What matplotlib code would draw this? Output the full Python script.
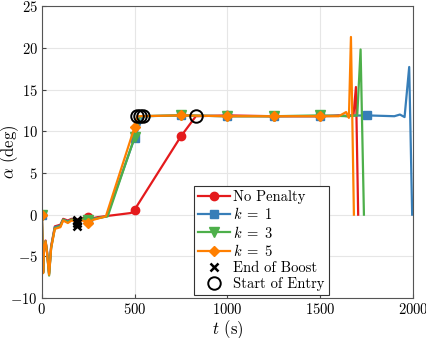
import matplotlib
matplotlib.use("Agg")
import matplotlib.pyplot as plt
import numpy as np

plt.rcParams["font.family"] = "serif"
plt.rcParams["font.serif"] = ["cmr10", "DejaVu Serif"]
plt.rcParams["mathtext.fontset"] = "cm"
plt.rcParams["axes.unicode_minus"] = False
plt.rcParams["axes.formatter.use_mathtext"] = True

# angle of attack histories, alpha (deg) vs t (s)
t_red = [0, 3, 7, 12, 20, 28, 39, 50, 70, 100, 115, 140, 160, 190, 220, 250, 280, 300,
         480, 500, 750, 830, 1000, 1250, 1500, 1600, 1650, 1680, 1693, 1705]
a_red = [0, -3, -6.8, -4, -3.1, -4.4, -7.0, -3.8, -1.4, -1.2, -0.5, -0.7, -0.5, -0.6, -0.4,
         -0.3, -0.4, -0.3, 0.2, 0.6, 9.4, 11.8, 11.9, 11.8, 11.8, 11.9, 11.8, 12.0, 15.3, 0]

t_blue = [0, 3, 7, 12, 20, 28, 39, 50, 70, 100, 115, 140, 160, 190, 220, 250, 280, 350,
          500, 545, 750, 1000, 1250, 1500, 1750, 1900, 1930, 1955, 1980, 1996]
a_blue = [0, -3, -6.9, -4, -3.2, -4.5, -7.1, -3.9, -1.5, -1.3, -0.6, -0.8, -0.6, -0.7, -0.5,
          -0.6, -0.5, -0.2, 9.2, 11.8, 11.9, 11.8, 11.8, 11.8, 11.9, 11.8, 12.0, 11.7, 17.7, 0]

t_green = [0, 3, 7, 12, 20, 28, 39, 50, 70, 100, 115, 140, 160, 190, 220, 250, 280, 355,
           500, 530, 750, 1000, 1250, 1500, 1650, 1700, 1718, 1736]
a_green = [0, -3, -7.0, -4, -3.2, -4.5, -7.3, -4, -1.6, -1.4, -0.6, -0.9, -0.6, -0.7, -0.5,
           -0.6, -0.5, -0.2, 9.3, 11.8, 11.9, 11.8, 11.8, 11.9, 11.8, 11.9, 19.8, 0]

t_orange = [0, 3, 7, 12, 20, 28, 39, 50, 70, 100, 115, 140, 160, 190, 220, 250, 280, 345,
            500, 515, 750, 1000, 1250, 1500, 1600, 1640, 1655, 1666, 1682]
a_orange = [0, -3, -7.0, -4, -3.2, -4.6, -7.2, -4, -1.7, -1.5, -0.7, -1.0, -0.7, -0.8, -0.7,
            -0.95, -0.6, -0.2, 10.5, 11.8, 11.9, 11.8, 11.8, 11.8, 11.8, 12.3, 11.6, 21.3, 0]

marker_times = [0, 250, 500, 750, 1000, 1250, 1500, 1750]

# event points
boost_t = [190, 190, 190, 190]
boost_a = [-0.6, -0.8, -1.0, -1.3]
entry_t = [830, 545, 530, 515]
entry_a = [11.8, 11.8, 11.8, 11.8]

series = [
    ("No Penalty", t_red, a_red, "#e41a1c", "o", 6),
    (r"$k\;=\;1$", t_blue, a_blue, "#377eb8", "s", 5.5),
    (r"$k\;=\;3$", t_green, a_green, "#4daf4a", "v", 6.5),
    (r"$k\;=\;5$", t_orange, a_orange, "#ff7f00", "D", 5.5),
]

fig = plt.figure(figsize=(4.27, 3.38), dpi=100)
ax = fig.add_axes([0.098, 0.118, 0.869, 0.864])

for label, t, a, color, marker, ms in series:
    idx = [i for i, v in enumerate(t) if v in marker_times]
    ax.plot(t, a, color=color, lw=1.6, marker=marker, ms=ms, markevery=idx, label=label)

ax.plot(boost_t, boost_a, ls="none", marker="x", color="k", ms=6, mew=1.8, label="End of Boost")
ax.plot(entry_t, entry_a, ls="none", marker="o", mfc="none", mec="k", ms=9, mew=1.4,
        label="Start of Entry")

ax.set_xlim(0, 2000)
ax.set_ylim(-10, 25)
ax.set_xticks(np.arange(0, 2001, 500))
ax.set_yticks(np.arange(-10, 26, 5))
ax.grid(True, color="#e6e6e6", lw=0.8)
ax.set_axisbelow(True)
ax.tick_params(direction="in", labelsize=10.5, length=3, color="#444444", pad=3)
for s in ax.spines.values():
    s.set_color("#555555")
    s.set_linewidth(0.8)

ax.set_xlabel("$t$ (s)", fontsize=12)
ax.set_ylabel(r"$\alpha$ (deg)", fontsize=12)
ax.xaxis.set_label_coords(0.5, -0.068)
ax.yaxis.set_label_coords(-0.057, 0.5)

leg = ax.legend(loc="lower left", bbox_to_anchor=(0.409, 0.01), fontsize=10.5,
                frameon=True, fancybox=False, edgecolor="#333333", framealpha=1,
                handlelength=2.2, handletextpad=0.2, borderpad=0.3, labelspacing=0.15,
                borderaxespad=0)
leg.get_frame().set_linewidth(0.8)

fig.savefig("out.png", dpi=100)
